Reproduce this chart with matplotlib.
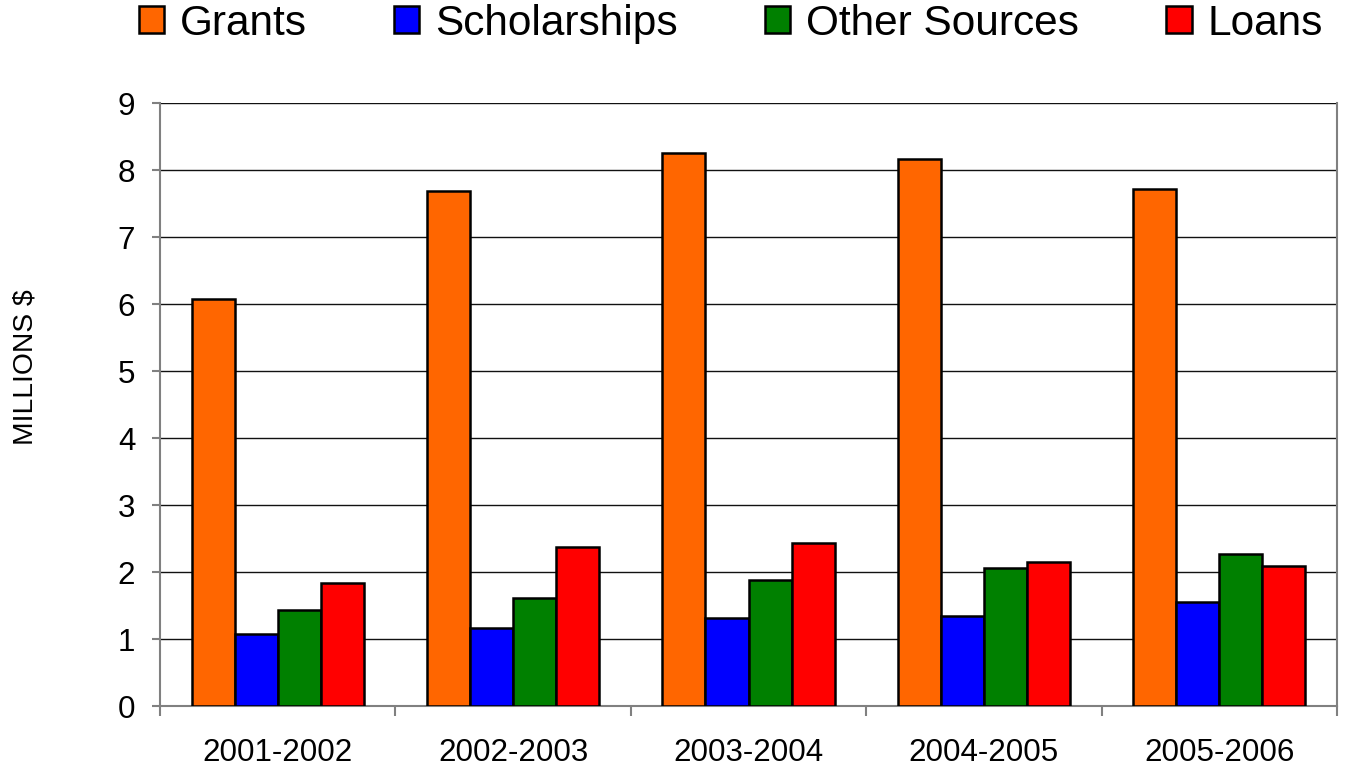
import matplotlib.pyplot as plt
import numpy as np

plt.rcParams['font.family'] = ['Liberation Sans', 'DejaVu Sans']

# Data
years = ['2001-2002', '2002-2003', '2003-2004', '2004-2005', '2005-2006']
grants = [6.07, 7.69, 8.25, 8.16, 7.72]
scholarships = [1.07, 1.16, 1.31, 1.34, 1.55]
other_sources = [1.43, 1.61, 1.88, 2.06, 2.27]
loans = [1.84, 2.37, 2.43, 2.15, 2.09]

series = [('Grants', grants, '#FF6600'),
          ('Scholarships', scholarships, '#0000FF'),
          ('Other Sources', other_sources, '#008000'),
          ('Loans', loans, '#FF0000')]

fig = plt.figure(figsize=(13.46, 7.68), dpi=100)
ax = fig.add_axes([0.1189, 0.0807, 0.8744, 0.785])

x = np.arange(len(years))
w = 0.183
for i, (name, vals, col) in enumerate(series):
    ax.bar(x + (i - 1.5) * w, vals, w, color=col, edgecolor='black',
           linewidth=1.8, label=name, zorder=3)

ax.set_xlim(-0.5, len(years) - 0.5)
ax.set_ylim(0, 9)
ax.set_yticks(range(10))
ax.yaxis.grid(True, color='#111111', linewidth=1, zorder=0)

# category boundary ticks, labels in between
ax.set_xticks(np.arange(-0.5, len(years)), labels=[])
ax.set_xticks(x, labels=years, minor=True)
ax.tick_params(axis='x', which='major', length=7.2, color='#808080', width=1.5)
ax.tick_params(axis='x', which='minor', length=0, pad=23, labelsize=22.6)
ax.tick_params(axis='y', length=5.8, color='#808080', width=1.5, labelsize=22.6, pad=12)

for s in ['left', 'bottom', 'right']:
    ax.spines[s].set_color('#808080')
    ax.spines[s].set_linewidth(1.5)
ax.spines['top'].set_visible(False)

fig.text(0.0186, 0.522, 'MILLIONS $', rotation=90, fontsize=20.3,
         ha='center', va='center')

fig.legend(loc='center', bbox_to_anchor=(0.543, 0.969), ncol=4, frameon=False,
           fontsize=30.5, handlelength=0.6, handleheight=0.6, handletextpad=0.38,
           columnspacing=2.05)

fig.savefig('out.png', dpi=100)
